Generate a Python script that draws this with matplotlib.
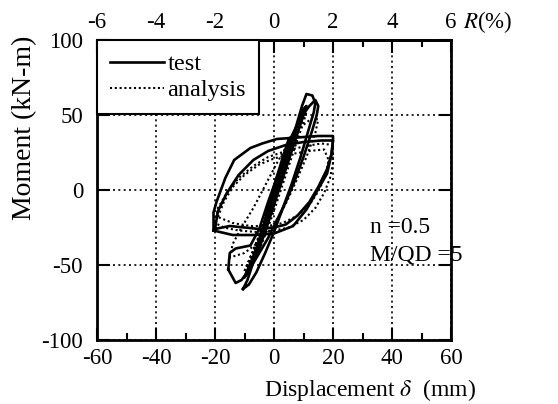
import matplotlib
matplotlib.use('Agg')
import matplotlib.pyplot as plt
from matplotlib.ticker import MultipleLocator

plt.rcParams['font.family'] = ['Liberation Serif', 'DejaVu Serif']
plt.rcParams['mathtext.fontset'] = 'stix'
plt.rcParams['axes.unicode_minus'] = False

# test loops (solid), displacement mm / moment kN-m
test_d1 = [-2.5, -1.5, 0, 1.5, 2.5, 2.0, 0.5, -1.0, -2.5]
test_m1 = [-17, -10, 0, 10, 16, 11, 2, -7, -17]
test_d2 = [-5, -4, -2, 0, 2, 4, 5.5, 5, 3, 1, -1, -3, -5]
test_m2 = [-38, -30, -16, -3, 10, 24, 35, 34, 22, 9, -5, -20, -38]
test_d3 = [-5, -3.5, -1, 1, 3, 5, 4.5, 2.5, 0.5, -1.5, -3.5, -5]
test_m3 = [-36, -25, -9, 4, 18, 32, 30, 17, 3, -10, -24, -36]
test_d4 = [-10.5, -9, -6, -3, 0, 3, 6, 8, 9.5, 11, 13, 14, 13.5, 12, 9, 6, 3, 0, -3, -6, -8.5, -10.5]
test_m4 = [-66, -60, -42, -24, -6, 12, 32, 46, 56, 64, 63, 58, 52, 42, 22, 4, -12, -28, -42, -55, -63, -66]
test_d5 = [-10, -7, -4, -1, 2, 5, 8, 10, 11, 9, 6, 3, 0, -3, -6, -9, -10]
test_m5 = [-58, -44, -28, -10, 8, 26, 44, 54, 56, 44, 26, 8, -10, -28, -44, -56, -58]
test_d6 = [-15.5, -15, -13, -8, -5, -2, 2, 6, 9, 12, 14, 15, 14.5, 13, 10, 7, 4, 1, -2, -5, -8, -11, -13, -15.5]
test_m6 = [-53, -42, -39, -37, -26, -8, 14, 36, 48, 56, 60, 56, 50, 40, 22, 6, -8, -20, -32, -42, -52, -60, -62, -53]
test_d7 = [-20.5, -20.5, -19.5, -16.5, -13.5, -8, -4, 1, 8, 15, 20, 20, 19.5, 18, 14.5, 11, 6.5, 0, -7, -14, -20.5]
test_m7 = [-27, -15, -8, 8, 20, 28, 31, 34, 35, 36, 36, 33, 24, 11, -1, -13, -24, -29, -30, -30, -27]
test_d8 = [-20, -19, -16, -12, -7, -2, 4, 10, 16, 20, 19.5, 18, 15, 12, 8, 4, 0, -5, -10, -15, -20]
test_m8 = [-26, -14, -2, 10, 20, 26, 30, 32, 33, 33, 24, 14, 2, -8, -17, -23, -25, -26, -25, -24, -26]

# analysis loops (dotted)
ana_d1 = [-5, -3, 0, 2, 4, 5, 4, 2, 0, -2, -4, -5]
ana_m1 = [-32, -20, -2, 11, 24, 30, 24, 12, 0, -13, -26, -32]
ana_d2 = [-10, -7, -3, 0, 3, 6, 9, 11, 10, 7, 4, 1, -2, -5, -8, -10]
ana_m2 = [-58, -42, -20, -3, 15, 32, 46, 52, 45, 28, 10, -8, -25, -40, -52, -58]
ana_d3 = [-10, -6, -2, 2, 6, 10, 9, 5, 1, -3, -7, -10]
ana_m3 = [-54, -36, -14, 8, 30, 48, 44, 24, 2, -20, -40, -54]
ana_d4 = [-15, -14, -11, -7, -3, 1, 5, 9, 13, 15, 14, 11, 8, 5, 2, -2, -6, -10, -15]
ana_m4 = [-45, -36, -25, -12, 3, 18, 32, 42, 48, 47, 38, 22, 8, -5, -17, -28, -36, -42, -45]
ana_d5 = [-20, -19, -16, -12, -7, -2, 4, 10, 16, 20, 20, 19, 17, 14, 10, 5, 0, -6, -12, -17, -20]
ana_m5 = [-22, -12, -2, 8, 16, 22, 26, 29, 31, 30, 18, 8, -2, -12, -20, -25, -27, -28, -27, -25, -22]
ana_d6 = [-19, -17, -14, -10, -5, 0, 6, 12, 17, 18.5, 17.5, 15, 12, 8, 3, -2, -8, -14, -19]
ana_m6 = [-18, -8, 2, 10, 17, 21, 24, 26, 27, 20, 10, -1, -10, -17, -22, -24, -24, -22, -18]

test_loops = [(test_d1, test_m1), (test_d2, test_m2), (test_d3, test_m3), (test_d4, test_m4),
              (test_d5, test_m5), (test_d6, test_m6), (test_d7, test_m7), (test_d8, test_m8)]
ana_loops = [(ana_d1, ana_m1), (ana_d2, ana_m2), (ana_d3, ana_m3),
             (ana_d4, ana_m4), (ana_d5, ana_m5), (ana_d6, ana_m6)]

fig = plt.figure(figsize=(5.58, 4.04), dpi=100)
ax = fig.add_axes([97/558, 64/404, 354/558, 300/404])

for i, (d, m) in enumerate(ana_loops):
    ax.plot(d, m, color='k', lw=1.5, ls=(0, (1, 1.3)), label='analysis' if i == 0 else None)
for i, (d, m) in enumerate(test_loops):
    ax.plot(d, m, color='k', lw=1.9, ls='-', label='test' if i == 0 else None)

ax.set_xlim(-60, 60)
ax.set_ylim(-100, 100)
ax.xaxis.set_major_locator(MultipleLocator(20))
ax.xaxis.set_minor_locator(MultipleLocator(10))
ax.yaxis.set_major_locator(MultipleLocator(50))
ax.grid(True, which='major', color='k', ls=(0, (1.2, 2)), lw=1.2)
for s in ax.spines.values():
    s.set_linewidth(2)
ax.tick_params(which='major', direction='in', length=9, width=1.5, labelsize=16.5,
               top=False, right=True)
ax.tick_params(which='minor', direction='in', length=5, width=1.5, top=False, right=False)
ax.tick_params(axis='x', pad=6)
ax.tick_params(axis='y', pad=10)

sec = ax.secondary_xaxis('top', functions=(lambda x: x / 10, lambda r: r * 10))
sec.set_xticks([-6, -4, -2, 0, 2, 4, 6])
sec.xaxis.set_minor_locator(MultipleLocator(1))
sec.tick_params(which='major', direction='in', length=9, width=1.5, labelsize=16.5, pad=5)
sec.tick_params(which='minor', direction='in', length=5, width=1.5)
sec.spines['top'].set_linewidth(2)

h, l = ax.get_legend_handles_labels()
order = [l.index('test'), l.index('analysis')]
leg = ax.legend([h[i] for i in order], [l[i] for i in order], loc='upper left',
                bbox_to_anchor=(0, 1), borderaxespad=0, fancybox=False,
                edgecolor='k', framealpha=1, fontsize=17.5, handlelength=2.2,
                handletextpad=0.15, labelspacing=0.15, borderpad=0.55)
leg.get_frame().set_linewidth(1.5)

ax.text(32.5, -25, 'n =0.5', fontsize=17, ha='left', va='center')
ax.text(32.5, -43, 'M/QD =5', fontsize=17, ha='left', va='center')

fig.text(25/558, 1 - 128/404, 'Moment (kN-m)', rotation=90, fontsize=20,
         ha='center', va='center')
fig.text(370/558, 1 - 396/404, r'Displacement $\delta$  (mm)', fontsize=17,
         ha='center', va='baseline')
fig.text(463/558, 1 - 22/404, r'$R$(%)', fontsize=16.5, ha='left', va='center')

fig.savefig('out.png', dpi=100)
